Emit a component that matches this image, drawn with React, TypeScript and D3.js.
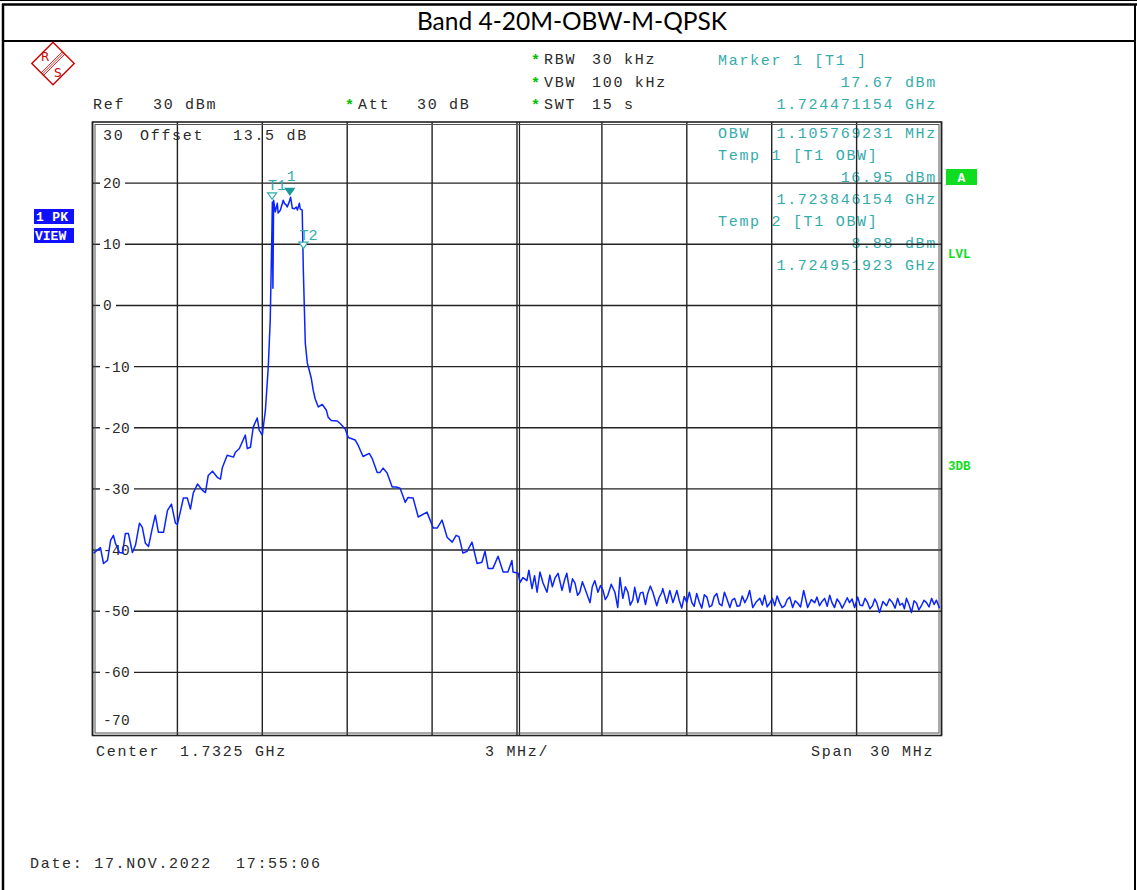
import React from "react";
import * as d3 from "d3";

// ---- chart data ----
const title = "Band 4-20M-OBW-M-QPSK";
const levelTicks = [20, 10, 0, -10, -20, -30, -40, -50, -60];
const freqGrid = [-15, -12, -9, -6, -3, 0, 3, 6, 9, 12, 15];

// trace: [offset from center in MHz, level in dBm]
const leftSkirt: [number, number][] = [
  [-14.96, -40.5], [-14.72, -39.6], [-14.61, -42.2], [-14.47, -41.7], [-14.36, -38.4],
  [-14.26, -37.6], [-14.19, -38.9], [-14.12, -39.6], [-14.05, -40.4], [-13.94, -40.5],
  [-13.84, -37.3], [-13.73, -37.3], [-13.59, -40.4], [-13.48, -39.2], [-13.34, -35.6],
  [-13.24, -36.3], [-13.13, -38.9], [-13.02, -39.4], [-12.88, -36.3], [-12.78, -34.3],
  [-12.67, -37.1], [-12.49, -37.1], [-12.35, -33.5], [-12.21, -32.5], [-12.07, -35.6],
  [-12.0, -35.8], [-11.86, -33.0], [-11.79, -31.5], [-11.65, -31.5], [-11.54, -33.3],
  [-11.44, -30.7], [-11.29, -29.2], [-11.12, -30.2], [-11.01, -30.6], [-10.91, -27.8],
  [-10.76, -27.1], [-10.59, -28.1], [-10.48, -28.4], [-10.41, -26.5], [-10.24, -24.5],
  [-10.02, -24.8], [-9.95, -24.0], [-9.81, -23.4], [-9.6, -21.2], [-9.53, -23.4],
  [-9.42, -23.2], [-9.32, -19.9], [-9.18, -18.4], [-9.11, -20.4], [-9.0, -21.2],
  [-8.89, -17.1], [-8.79, -10.1],
];
const channelTop: [number, number][] = [
  [-8.72, -2.4], [-8.66, 12.3], [-8.645, 16.9], [-8.625, 2.8], [-8.6, 17.2],
  [-8.54, 15.3], [-8.47, 16.7], [-8.44, 15.1], [-8.36, 15.6], [-8.29, 16.7],
  [-8.26, 17.2], [-8.22, 16.7], [-8.15, 16.4], [-8.12, 16.1], [-8.05, 16.9],
  [-8.0, 17.7], [-7.94, 15.9], [-7.87, 15.8], [-7.8, 16.1], [-7.76, 15.6],
  [-7.69, 16.7], [-7.66, 15.8], [-7.59, 15.6], [-7.55, 5.8], [-7.48, -6.2],
  [-7.41, -9.4],
];
const rightSkirt: [number, number][] = [
  [-7.34, -10.6], [-7.27, -11.9], [-7.2, -13.9], [-7.13, -15.3], [-7.02, -16.6],
  [-6.88, -16.2], [-6.74, -17.1], [-6.67, -18.3], [-6.56, -18.8], [-6.35, -18.9],
  [-6.25, -19.3], [-6.07, -20.2], [-5.96, -21.6], [-5.72, -22.0], [-5.61, -22.9],
  [-5.44, -24.7], [-5.22, -24.2], [-5.12, -25.0], [-4.94, -27.3], [-4.84, -27.3],
  [-4.73, -26.6], [-4.59, -27.4], [-4.41, -29.7], [-4.27, -29.7], [-4.13, -29.9],
  [-3.95, -32.2], [-3.85, -31.4], [-3.67, -31.5], [-3.49, -34.6], [-3.18, -33.8],
  [-2.96, -36.4], [-2.82, -36.4], [-2.65, -35.1], [-2.47, -37.9], [-2.29, -38.7],
  [-2.15, -37.6], [-2.05, -37.8], [-1.91, -40.5], [-1.76, -40.2], [-1.59, -38.7],
  [-1.41, -42.2], [-1.24, -42.0], [-1.13, -40.2], [-1.02, -43.0], [-0.85, -43.0],
  [-0.67, -41.0], [-0.49, -43.6], [-0.32, -43.6], [-0.18, -41.7], [-0.14, -43.6],
  [0.04, -43.8], [0.11, -45.3], [0.21, -44.5], [0.35, -45.0], [0.42, -43.3],
];
const noiseFloor: [number, number][] = [
  [0.53, -46.3], [0.62, -44.2], [0.71, -46.9], [0.81, -43.6], [0.92, -45.4], [1.06, -46.9],
  [1.16, -44.1], [1.25, -46.0], [1.34, -44.6], [1.45, -43.8], [1.59, -46.6], [1.68, -44.9], [1.76, -43.8],
  [1.87, -46.9], [1.96, -44.7], [2.05, -45.4], [2.14, -47.4], [2.22, -46.9], [2.31, -45.2], [2.4, -46.3], [2.58, -48.6],
  [2.66, -46.0], [2.75, -45.0], [2.86, -46.9], [2.95, -45.8], [3.04, -46.6], [3.12, -48.1], [3.21, -47.4], [3.33, -45.6], [3.46, -46.9],
  [3.56, -49.4], [3.64, -44.5], [3.74, -47.9], [3.83, -46.0], [3.92, -46.9], [4.0, -49.0], [4.09, -48.2],
  [4.16, -46.1], [4.27, -48.6], [4.36, -47.0], [4.45, -46.9], [4.54, -48.9], [4.62, -47.1], [4.71, -45.9], [4.8, -46.9],
  [4.94, -49.1], [5.02, -47.8], [5.12, -46.9], [5.15, -46.3], [5.29, -48.7], [5.4, -46.6],
  [5.51, -48.6], [5.65, -46.6], [5.73, -48.2], [5.82, -49.5], [5.91, -47.6], [6.0, -48.6], [6.09, -46.9], [6.18, -48.6],
  [6.26, -49.2], [6.35, -47.1], [6.44, -48.5], [6.53, -49.5], [6.62, -47.3], [6.71, -47.7], [6.8, -49.3], [6.88, -49.1], [6.97, -47.6], [7.06, -47.1],
  [7.15, -48.8], [7.24, -49.1], [7.33, -46.9], [7.41, -47.9], [7.52, -49.4], [7.6, -48.2], [7.69, -47.9], [7.78, -49.2], [7.87, -49.1],
  [7.96, -47.5], [8.05, -48.6], [8.14, -47.8], [8.22, -46.6], [8.33, -49.4], [8.45, -48.5], [8.58, -47.9], [8.67, -49.0], [8.75, -47.4],
  [8.84, -49.3], [8.93, -48.7], [9.02, -47.9], [9.11, -49.1], [9.19, -47.5], [9.28, -48.6], [9.37, -49.4], [9.46, -49.1], [9.55, -48.1], [9.64, -47.7],
  [9.74, -49.4], [9.83, -48.3], [9.92, -48.7], [10.02, -49.3], [10.13, -46.6], [10.27, -49.4], [10.4, -48.1], [10.52, -48.6],
  [10.6, -47.7], [10.69, -49.1], [10.78, -48.4], [10.87, -47.9], [10.96, -49.2], [11.05, -47.4], [11.13, -48.6], [11.22, -49.4], [11.31, -48.0], [11.4, -48.6],
  [11.49, -49.5], [11.58, -48.7], [11.67, -47.8], [11.75, -48.6], [11.84, -48.0], [11.93, -49.4], [12.04, -47.7], [12.12, -49.0], [12.21, -49.1],
  [12.3, -47.9], [12.39, -48.6], [12.47, -49.6], [12.56, -49.1], [12.64, -48.0], [12.71, -48.6], [12.81, -50.2], [12.93, -48.4], [13.06, -49.1],
  [13.16, -48.0], [13.27, -48.6], [13.36, -49.5], [13.45, -47.9], [13.53, -49.0], [13.62, -48.7], [13.69, -49.6], [13.76, -47.9], [13.85, -48.9], [13.94, -50.2],
  [14.03, -48.3], [14.12, -48.7], [14.2, -49.8], [14.29, -49.1], [14.38, -48.2], [14.47, -48.6], [14.56, -49.3], [14.65, -47.9], [14.74, -48.9], [14.82, -48.2],
  [14.93, -49.5],
];

const markerLabels = ["T1", "1", "T2"];
const markerMHz = [-8.654, -8.029, -7.548];
const markerDbm = [16.95, 17.67, 8.88];
const markerFilled = [false, true, false];

const W = 1137;
const H = 890;
const MONO = "'Liberation Mono', 'DejaVu Sans Mono', monospace";
const GREY = "#2a2a2a";
const CYAN = "#35abab";
const GREEN = "#10dd20";

const Mono = ({ x, y, anchor = "start", fill = GREY, size = 15, ls = 1.7, weight = "normal", children }: any) => (
  <text
    x={x}
    y={y}
    textAnchor={anchor}
    fill={fill}
    fontFamily={MONO}
    fontSize={size}
    fontWeight={weight}
    letterSpacing={ls}
    style={{ whiteSpace: "pre" }}
  >
    {children}
  </text>
);

const Star = ({ x, y }: any) => (
  <text x={x} y={y} fill="#00c000" fontFamily={MONO} fontSize={15} fontWeight="bold">*</text>
);

export default function App() {
  const x = d3.scaleLinear().domain([-15, 15]).range([92.5, 941.5]);
  const y = d3.scaleLinear().domain([-70, 30]).range([733.5, 122]);
  const trace = [...leftSkirt, ...channelTop, ...rightSkirt, ...noiseFloor];
  const line = d3
    .line<[number, number]>()
    .x((d) => x(d[0]))
    .y((d) => y(d[1]));

  const left = x(-15);
  const right = x(15);
  const top = y(30);
  const bottom = y(-70);

  return (
    <svg width={W} height={H} style={{ position: "absolute", left: 0, top: 0, background: "#fff" }}>
      {/* outer frame */}
      <line x1={0} x2={W} y1={0.5} y2={0.5} stroke="#000" strokeWidth={1.2} />
      <line x1={2} x2={W} y1={4.5} y2={4.5} stroke="#000" strokeWidth={2.5} />
      <line x1={3} x2={3} y1={4} y2={H} stroke="#000" strokeWidth={2.5} />
      <line x1={1135} x2={1135} y1={4} y2={H} stroke="#000" strokeWidth={2} />
      <line x1={3} x2={1135} y1={41} y2={41} stroke="#000" strokeWidth={2} />
      <text x={572} y={30} textAnchor="middle" fontFamily="Lato, 'Open Sans', sans-serif" fontSize={24.5} fill="#000">
        {title}
      </text>

      {/* R&S logo */}
      <g transform="translate(53,63.5) rotate(45)" stroke="#cc0000" fill="none">
        <rect x={-15} y={-15} width={30} height={30} strokeWidth={1.4} />
        <line x1={-1.8} x2={-1.8} y1={-15} y2={15} strokeWidth={0.8} />
        <line x1={0} x2={0} y1={-15} y2={15} strokeWidth={0.8} />
        <line x1={1.8} x2={1.8} y1={-15} y2={15} strokeWidth={0.8} />
      </g>
      <text x={41} y={61} fill="#cc0000" fontFamily="'DejaVu Sans', sans-serif" fontSize={12}>R</text>
      <text x={54} y={77} fill="#cc0000" fontFamily="'DejaVu Sans', sans-serif" fontSize={12}>S</text>

      {/* header settings */}
      <Mono x={93} y={109}>Ref</Mono>
      <Mono x={153} y={109}>30 dBm</Mono>
      <Star x={345} y={110} />
      <Mono x={358} y={109}>Att</Mono>
      <Mono x={417} y={109}>30 dB</Mono>
      <Star x={531} y={65} />
      <Mono x={544} y={64}>RBW</Mono>
      <Mono x={592} y={64}>30 kHz</Mono>
      <Star x={531} y={88} />
      <Mono x={544} y={87}>VBW</Mono>
      <Mono x={592} y={87}>100 kHz</Mono>
      <Star x={531} y={110} />
      <Mono x={544} y={109}>SWT</Mono>
      <Mono x={592} y={109}>15 s</Mono>
      <Mono x={718} y={65} fill={CYAN}>Marker 1 [T1 ]</Mono>
      <Mono x={937} y={87} anchor="end" fill={CYAN}>17.67 dBm</Mono>
      <Mono x={937} y={109} anchor="end" fill={CYAN}>1.724471154 GHz</Mono>

      {/* in-plot readouts (drawn under the grid) */}
      <Mono x={103} y={140}>30</Mono>
      <Mono x={140} y={140}>Offset</Mono>
      <Mono x={233} y={140}>13.5 dB</Mono>
      <Mono x={718} y={138} fill={CYAN}>OBW</Mono>
      <Mono x={937} y={138} anchor="end" fill={CYAN}>1.105769231 MHz</Mono>
      <Mono x={718} y={160} fill={CYAN}>Temp 1 [T1 OBW]</Mono>
      <Mono x={937} y={182} anchor="end" fill={CYAN}>16.95 dBm</Mono>
      <Mono x={937} y={204} anchor="end" fill={CYAN}>1.723846154 GHz</Mono>
      <Mono x={718} y={226} fill={CYAN}>Temp 2 [T1 OBW]</Mono>
      <Mono x={937} y={248} anchor="end" fill={CYAN}>8.88 dBm</Mono>
      <Mono x={937} y={270} anchor="end" fill={CYAN}>1.724951923 GHz</Mono>

      {/* grid */}
      {freqGrid.map((f) => (
        <line key={"v" + f} x1={x(f)} x2={x(f)} y1={top} y2={bottom + 2} stroke="#222" strokeWidth={1.4} />
      ))}
      <line x1={x(0) + 2.5} x2={x(0) + 2.5} y1={top} y2={bottom + 2} stroke="#222" strokeWidth={1.2} />
      {levelTicks.map((v) => {
        const label = String(v);
        const end = 103 + label.length * 9;
        return (
          <g key={"h" + v}>
            <line x1={left} x2={100} y1={y(v)} y2={y(v)} stroke="#222" strokeWidth={1.4} />
            <line x1={end + 4} x2={right} y1={y(v)} y2={y(v)} stroke="#222" strokeWidth={1.4} />
            <Mono x={103} y={y(v) + 5} size={14.5} ls={0.3}>{label}</Mono>
          </g>
        );
      })}
      <Mono x={103} y={725} size={14.5} ls={0.3}>-70</Mono>
      {/* plot border (double lines) */}
      <rect x={left} y={top} width={right - left} height={bottom - top + 2} fill="none" stroke="#222" strokeWidth={1.6} />
      <rect x={left + 2.5} y={top + 2.5} width={right - left - 5} height={bottom - top - 3} fill="none" stroke="#555" strokeWidth={1} />

      {/* trace */}
      <path d={line(trace) || ""} fill="none" stroke="#0a24ff" strokeWidth={1.5} strokeLinejoin="round" />

      {/* markers */}
      {markerLabels.map((lab, i) => {
        const mx = x(markerMHz[i]);
        const my = y(markerDbm[i]) - 2.5;
        return (
          <g key={lab}>
            <path
              d={`M${mx - 4.5},${my - 6.5} L${mx + 4.5},${my - 6.5} L${mx},${my} Z`}
              fill={markerFilled[i] ? "#1a9a9a" : "#fff"}
              stroke={markerFilled[i] ? "#1a9a9a" : CYAN}
              strokeWidth={1.2}
            />
            <text
              x={markerFilled[i] ? mx - 3 : mx - 4}
              y={my - (markerFilled[i] ? 14 : 9)}
              fill={CYAN}
              fontFamily={MONO}
              fontSize={15}
            >
              {lab}
            </text>
          </g>
        );
      })}

      {/* side indicators */}
      <rect x={34} y={209} width={40} height={15} fill="#1010ff" />
      <Mono x={36} y={221} fill="#fff" size={13} ls={0.3} weight="bold">1 PK</Mono>
      <rect x={34} y={228} width={40} height={15} fill="#1010ff" />
      <Mono x={35} y={240} fill="#fff" size={13} ls={0} weight="bold">VIEW</Mono>
      <rect x={946} y={169} width={31} height={16} fill={GREEN} />
      <Mono x={961.5} y={181.5} anchor="middle" fill="#fff" size={13} ls={0} weight="bold">A</Mono>
      <Mono x={948} y={258} fill={GREEN} size={12.5} ls={0} weight="bold">LVL</Mono>
      <Mono x={948} y={470} fill={GREEN} size={12.5} ls={0} weight="bold">3DB</Mono>

      {/* footer */}
      <Mono x={96} y={756}>Center</Mono>
      <Mono x={180} y={756}>1.7325 GHz</Mono>
      <Mono x={485} y={756}>3 MHz/</Mono>
      <Mono x={811} y={756}>Span</Mono>
      <Mono x={870} y={756}>30 MHz</Mono>
      <Mono x={30} y={868}>Date: 17.NOV.2022</Mono>
      <Mono x={236} y={868}>17:55:06</Mono>
    </svg>
  );
}
